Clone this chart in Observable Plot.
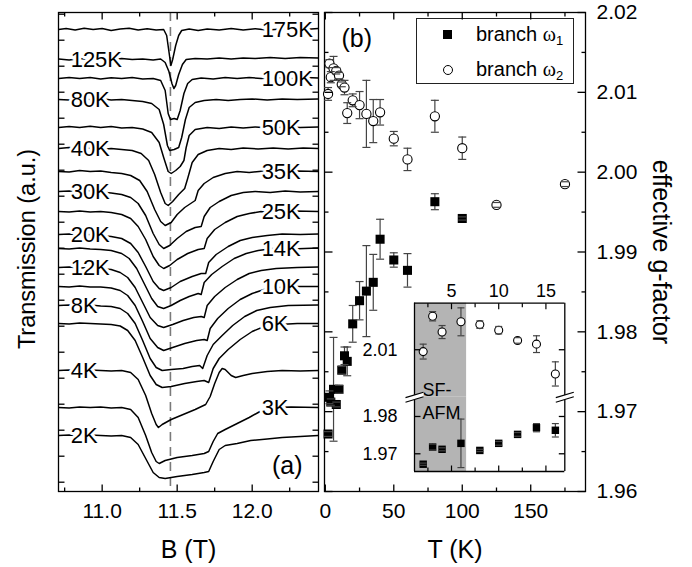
<!DOCTYPE html>
<html><head><meta charset="utf-8">
<script src="https://cdn.jsdelivr.net/npm/d3@7"></script>
<script src="https://cdn.jsdelivr.net/npm/@observablehq/plot@0.6"></script>
<style>
body{margin:0;background:#fff;}
#wrap{position:relative;width:692px;height:567px;overflow:hidden;background:#fff;font-family:"Liberation Sans",Arial,sans-serif;}
#wrap svg{position:absolute;left:0;top:0;}
#legend{position:absolute;left:416px;top:18px;width:158px;height:66px;border:1px solid #222;box-sizing:border-box;background:#fff;font-size:20px;}
#legend .sq{position:absolute;left:26px;top:11px;width:9px;height:9px;background:#000;}
#legend .ci{position:absolute;left:26px;top:46px;width:10px;height:10px;border:1.2px solid #000;border-radius:50%;box-sizing:border-box;}
#legend .t{position:absolute;left:59px;height:24px;line-height:24px;white-space:nowrap;}
#legend .w{font-family:"Liberation Serif","Times New Roman",serif;}
#legend sub{font-size:13px;vertical-align:-4px;}
</style></head><body>
<div id="wrap">
<div id="legend"><div class="sq"></div><div class="t" style="top:3px">branch <span class="w">ω</span><sub>1</sub></div>
<div class="ci"></div><div class="t" style="top:38px">branch <span class="w">ω</span><sub>2</sub></div></div>
</div>
<script>
// ---------- Panel (a): transmission spectra ----------
const temps = ["175K","125K","100K","80K","50K","40K","35K","30K","25K","20K","14K","12K","10K","8K","6K","4K","3K","2K"];
const offsets = [46.2,43.2,41.3,39.2,36.4,34.3,32.0,30.0,28.0,25.7,24.3,22.4,20.5,18.6,16.8,12.1,8.4,5.6];
const labelSide = ["right","left","right","left","right","left","right","left","right","left","right","left","right","left","right","left","right","left"];
// each trace: [B (T), change of transmission (a.u.) relative to its offset]
const spectra = [
 [[10.71,0],[10.76,0.1],[10.82,-0.05],[10.88,0.12],[10.94,0],[11.0,0.1],[11.06,-0.1],[11.12,0.05],[11.18,0.12],[11.24,-0.05],[11.3,0.08],[11.36,-0.05],[11.41,0],[11.43,-0.6],[11.445,-2.2],[11.458,-3.6],[11.47,-3.0],[11.49,-1.6],[11.51,-0.6],[11.53,-0.1],[11.58,0.05],[11.64,-0.1],[11.7,0.05],[11.78,-0.05],[11.86,0.1],[11.94,-0.05],[12.02,0.08],[12.1,-0.05],[12.2,0.05],[12.3,-0.05],[12.44,0.1]],
 [[10.71,0.05],[10.78,-0.05],[10.85,0.1],[10.92,0],[10.99,0.1],[11.06,-0.05],[11.13,0.1],[11.2,0],[11.27,0.05],[11.34,-0.05],[11.39,0.05],[11.42,-0.3],[11.445,-1.2],[11.465,-2.4],[11.478,-2.9],[11.49,-2.6],[11.51,-1.5],[11.535,-0.5],[11.56,0],[11.62,0.1],[11.7,0.05],[11.78,0.15],[11.86,0.05],[11.94,0.15],[12.02,0.1],[12.12,0.2],[12.22,0.1],[12.32,0.2],[12.44,0.15]],
 [[10.71,0],[10.78,0.1],[10.85,0],[10.92,0.1],[10.99,-0.05],[11.06,0.08],[11.13,0],[11.2,0.1],[11.27,-0.05],[11.34,0],[11.39,-0.2],[11.42,-1.2],[11.44,-3.5],[11.455,-4.1],[11.48,-4.0],[11.5,-4.1],[11.52,-3.2],[11.545,-1.5],[11.57,-0.5],[11.6,-0.1],[11.66,0.05],[11.74,-0.05],[11.82,0.1],[11.9,0],[11.98,0.1],[12.06,0],[12.16,0.1],[12.26,0],[12.36,0.1],[12.44,0.05]],
 [[10.71,0],[10.78,-0.05],[10.85,0.08],[10.92,0],[10.99,0.1],[11.06,-0.05],[11.13,0],[11.2,-0.1],[11.27,-0.2],[11.33,-0.4],[11.38,-1.0],[11.41,-2.5],[11.435,-4.6],[11.45,-5.1],[11.48,-5.0],[11.51,-4.8],[11.53,-3.8],[11.555,-2.0],[11.58,-0.8],[11.62,-0.3],[11.68,-0.1],[11.76,0],[11.84,-0.1],[11.92,0],[12.0,0.05],[12.1,-0.05],[12.2,0.05],[12.3,0],[12.44,0.05]],
 [[10.71,0],[10.78,0.1],[10.85,0],[10.92,0.12],[10.99,0],[11.06,0.1],[11.13,-0.05],[11.2,0],[11.27,-0.15],[11.33,-0.5],[11.38,-1.5],[11.41,-3.0],[11.44,-4.4],[11.46,-4.6],[11.49,-4.3],[11.52,-3.9],[11.545,-3.3],[11.56,-2.0],[11.58,-0.8],[11.62,-0.2],[11.7,0],[11.78,-0.1],[11.86,0.05],[11.94,-0.05],[12.02,0.05],[12.12,-0.05],[12.22,0.05],[12.32,0],[12.44,0.05]],
 [[10.71,0],[10.78,0.1],[10.85,-0.05],[10.92,0.05],[10.99,-0.1],[11.06,0],[11.13,-0.1],[11.2,-0.2],[11.26,-0.5],[11.31,-1.2],[11.35,-2.6],[11.39,-4.4],[11.42,-5.5],[11.44,-5.7],[11.47,-5.3],[11.51,-4.6],[11.55,-4.0],[11.57,-3.0],[11.6,-1.4],[11.64,-0.6],[11.7,-0.2],[11.78,0],[11.86,-0.1],[11.94,0.05],[12.04,-0.05],[12.14,0.05],[12.24,-0.05],[12.34,0.05],[12.44,0]],
 [[10.71,0],[10.78,-0.05],[10.85,0.1],[10.92,0],[10.99,0.05],[11.06,-0.1],[11.13,-0.2],[11.19,-0.4],[11.25,-0.9],[11.3,-2.0],[11.35,-3.8],[11.39,-5.0],[11.42,-5.4],[11.46,-5.1],[11.5,-4.3],[11.55,-3.6],[11.6,-3.1],[11.62,-2.9],[11.64,-1.9],[11.68,-1.2],[11.74,-0.6],[11.82,-0.2],[11.9,0],[11.98,-0.1],[12.08,0.05],[12.18,-0.05],[12.3,0.05],[12.44,0]],
 [[10.71,0],[10.78,0.05],[10.85,-0.05],[10.92,0.1],[10.99,-0.05],[11.06,-0.15],[11.13,-0.3],[11.19,-0.6],[11.24,-1.2],[11.29,-2.4],[11.34,-4.2],[11.38,-5.3],[11.41,-5.7],[11.45,-5.4],[11.5,-4.7],[11.56,-4.0],[11.62,-3.6],[11.66,-3.5],[11.68,-2.5],[11.72,-1.6],[11.78,-1.0],[11.86,-0.4],[11.94,-0.1],[12.02,0],[12.12,-0.1],[12.22,0.05],[12.32,-0.05],[12.44,0]],
 [[10.71,0],[10.78,-0.05],[10.85,0.05],[10.92,-0.05],[10.99,0],[11.06,-0.1],[11.13,-0.3],[11.19,-0.7],[11.24,-1.5],[11.29,-2.8],[11.34,-4.5],[11.38,-5.4],[11.41,-5.7],[11.45,-5.4],[11.5,-4.8],[11.57,-4.2],[11.64,-3.8],[11.68,-3.7],[11.7,-2.7],[11.75,-1.8],[11.82,-1.1],[11.9,-0.5],[11.98,-0.2],[12.06,0],[12.16,-0.05],[12.28,0.05],[12.44,0]],
 [[10.71,0],[10.78,0.05],[10.85,-0.05],[10.92,0],[10.99,-0.1],[11.06,-0.2],[11.13,-0.4],[11.19,-0.9],[11.24,-1.8],[11.29,-3.2],[11.34,-4.7],[11.38,-5.4],[11.41,-5.6],[11.46,-5.3],[11.52,-4.7],[11.6,-4.2],[11.66,-3.9],[11.69,-3.9],[11.71,-2.8],[11.76,-2.0],[11.84,-1.2],[11.92,-0.6],[12.0,-0.3],[12.1,-0.1],[12.2,0.05],[12.32,0],[12.44,0.05]],
 [[10.71,0],[10.78,-0.05],[10.85,0.05],[10.92,-0.05],[10.99,-0.1],[11.06,-0.2],[11.13,-0.5],[11.18,-1.0],[11.23,-2.0],[11.28,-3.5],[11.33,-5.0],[11.37,-5.8],[11.41,-6.0],[11.46,-5.7],[11.52,-5.2],[11.58,-4.8],[11.64,-4.5],[11.66,-4.6],[11.68,-3.4],[11.73,-2.6],[11.8,-1.8],[11.88,-1.0],[11.96,-0.5],[12.04,-0.2],[12.14,0],[12.26,-0.05],[12.44,0.05]],
 [[10.71,0],[10.78,0.05],[10.85,-0.05],[10.92,0],[10.99,-0.1],[11.06,-0.2],[11.12,-0.5],[11.17,-1.0],[11.22,-2.0],[11.27,-3.5],[11.32,-5.0],[11.37,-5.8],[11.41,-6.0],[11.47,-5.7],[11.54,-5.3],[11.61,-5.0],[11.66,-4.9],[11.68,-5.0],[11.7,-3.8],[11.75,-2.9],[11.82,-2.0],[11.9,-1.2],[11.98,-0.6],[12.06,-0.3],[12.16,-0.1],[12.3,0],[12.44,0.05]],
 [[10.71,0],[10.78,-0.05],[10.85,0.05],[10.92,-0.05],[10.99,-0.05],[11.06,-0.15],[11.12,-0.4],[11.17,-0.9],[11.22,-1.9],[11.27,-3.5],[11.32,-5.2],[11.37,-6.1],[11.41,-6.4],[11.47,-6.1],[11.55,-5.7],[11.63,-5.4],[11.68,-5.3],[11.7,-5.4],[11.72,-4.2],[11.77,-3.2],[11.84,-2.2],[11.92,-1.3],[12.0,-0.7],[12.08,-0.3],[12.18,-0.1],[12.3,0],[12.44,0]],
 [[10.71,0],[10.78,0.05],[10.85,-0.05],[10.92,0.05],[10.99,-0.05],[11.06,-0.1],[11.12,-0.3],[11.17,-0.8],[11.22,-1.8],[11.27,-3.5],[11.32,-5.3],[11.36,-6.2],[11.4,-6.5],[11.46,-6.4],[11.54,-6.3],[11.6,-6.1],[11.65,-6.0],[11.67,-6.3],[11.7,-5.0],[11.74,-3.9],[11.8,-3.0],[11.87,-2.0],[11.95,-1.1],[12.03,-0.5],[12.12,-0.2],[12.24,0],[12.44,0.05]],
 [[10.71,0],[10.78,-0.05],[10.85,0.05],[10.92,0],[10.99,-0.05],[11.06,-0.1],[11.12,-0.25],[11.17,-0.7],[11.22,-1.7],[11.27,-3.4],[11.32,-5.2],[11.36,-6.1],[11.4,-6.4],[11.46,-6.3],[11.55,-6.0],[11.63,-5.8],[11.68,-5.7],[11.71,-5.9],[11.74,-4.5],[11.78,-3.5],[11.84,-2.6],[11.92,-1.6],[12.0,-0.8],[12.08,-0.3],[12.18,-0.1],[12.3,0],[12.44,0]],
 [[10.71,0],[10.78,0.05],[10.85,-0.05],[10.92,0.05],[10.99,0],[11.06,-0.05],[11.13,0],[11.19,-0.2],[11.24,-0.9],[11.29,-2.5],[11.33,-4.3],[11.36,-5.4],[11.375,-5.7],[11.4,-5.4],[11.46,-4.9],[11.54,-4.4],[11.62,-3.9],[11.69,-3.4],[11.72,-2.6],[11.75,-1.3],[11.78,-0.2],[11.8,0.2],[11.82,0.1],[11.86,-0.5],[11.89,-0.7],[11.94,-0.5],[12.0,-0.3],[12.1,-0.1],[12.2,0],[12.32,-0.05],[12.44,0]],
 [[10.71,0],[10.78,-0.05],[10.85,0.05],[10.92,0],[10.99,0.05],[11.06,-0.05],[11.13,0],[11.19,-0.2],[11.24,-1.0],[11.29,-2.8],[11.33,-4.5],[11.36,-5.4],[11.38,-5.6],[11.42,-5.3],[11.5,-5.0],[11.6,-4.8],[11.68,-4.6],[11.71,-4.4],[11.74,-3.4],[11.77,-2.6],[11.82,-2.2],[11.9,-1.6],[11.98,-1.0],[12.04,-0.5],[12.08,-0.2],[12.14,0],[12.26,0.05],[12.44,0]],
 [[10.71,0],[10.78,0.05],[10.85,-0.05],[10.92,0.05],[10.99,0],[11.06,-0.05],[11.13,0],[11.19,-0.2],[11.24,-0.9],[11.29,-2.3],[11.34,-3.7],[11.38,-4.2],[11.42,-4.3],[11.5,-4.1],[11.6,-3.9],[11.68,-3.7],[11.71,-3.6],[11.74,-2.6],[11.78,-1.4],[11.82,-1.0],[11.9,-0.8],[11.99,-0.5],[12.1,-0.35],[12.2,-0.2],[12.32,-0.1],[12.44,0]]
];
const bDomain = [10.709, 12.442];
const aDomain = [0, 47.9];
const dashB = 11.455;
const labelBLeft = 10.79, labelBRight = 12.063;
const bTickLabels = [11.0, 11.5, 12.0];
const bTicksMinor = [10.75, 11.25, 11.75, 12.25];
const aTicksY = [0.93,3.53,6.13,8.73,11.33,13.93,16.53,19.13,21.73,24.33,26.93,29.53,32.13,34.73,37.33,39.93,42.53,45.13,47.73];

// ---------- Panel (b): effective g-factor ----------
const w1T = [2,3,4,6,8,10,12,14,16,20,25,30,35,40,50,60,80,100];
const w1G = [1.9672,1.9718,1.9712,1.9728,1.9709,1.9728,1.9752,1.9770,1.9763,1.9810,1.9839,1.9851,1.9862,1.9916,1.9890,1.9877,1.9963,1.9942];
const w1E = [0.0003,0.0008,0.0004,0.0065,0.0003,0.0005,0.0005,0.0011,0.0018,0.0023,0.0024,0.0057,0.0035,0.0025,0.0009,0.0021,0.0010,0.0002];
const w2T = [2,3,4,6,8,10,12,14,16,20,25,30,35,40,50,60,80,100,125,175];
const w2G = [2.0098,2.0136,2.0119,2.0130,2.0127,2.0121,2.0110,2.0106,2.0074,2.0090,2.0084,2.0073,2.0064,2.0075,2.0042,2.0016,2.0070,2.0030,1.9959,1.9985];
const w2E = [0.0008,0.0005,0.0007,0.0015,0.0004,0.0004,0.0003,0.0009,0.0013,0.0008,0.0017,0.0042,0.0027,0.0016,0.0009,0.0014,0.0020,0.0014,0.0003,0.0003];
const tDomain = [-0.6, 190];
const gDomain = [1.96, 2.02];
const tTickLabels = [0, 50, 100, 150];
const tTicksMinor = [25, 75, 125, 175];
const gTickLabels = [1.96, 1.97, 1.98, 1.99, 2.00, 2.01, 2.02];
const gTicksMinor = [1.965, 1.975, 1.985, 1.995, 2.005, 2.015];

// ---------- Inset ----------
const insetT = [1.08, 17.0];
const insetUpper = [2.0049, 2.0150];
const insetLower = [1.96525, 1.98517];
const sfAfmEdge = 6.6;
const insetTickLabels = [5, 10, 15];
const insetTicksMinor = [2.5, 7.5, 12.5];
const insetUpperTicks = [2.01];
const insetLowerTicks = [1.97, 1.98];
const insetMaxT = 16;

// ---------- helpers ----------
const W = 692, H = 567;
const FONT = "Liberation Sans, Arial, sans-serif";
const tickSym = (dx, dy) => ({draw(ctx, size) { const L = Math.sqrt(size / Math.PI); ctx.moveTo(0, 0); ctx.lineTo(dx * L, dy * L); }});
const capSym = {draw(ctx, size) { const L = Math.sqrt(size / Math.PI); ctx.moveTo(-L, 0); ctx.lineTo(L, 0); }};
const breakLines = {draw(ctx, size) { const L = Math.sqrt(size / Math.PI); for (const o of [-2.3, 2.3]) { ctx.moveTo(-L, o + 0.3 * L); ctx.lineTo(L, o - 0.3 * L); } }};
const breakGap = {draw(ctx, size) { const L = Math.sqrt(size / Math.PI); ctx.moveTo(-L, -2.3 + 0.3 * L); ctx.lineTo(L, -2.3 - 0.3 * L); ctx.lineTo(L, 2.3 - 0.3 * L); ctx.lineTo(-L, 2.3 + 0.3 * L); ctx.closePath(); }};
const style = (fs) => ({background: "transparent", fontFamily: FONT, fontSize: fs + "px", color: "black", overflow: "visible"});
function xTicks(vals, len, both = true) {
  const m = [Plot.dot(vals, {x: d => d, frameAnchor: "bottom", symbol: tickSym(0, -1), r: len, stroke: "black", strokeWidth: 1.3, fill: "none"})];
  if (both) m.push(Plot.dot(vals, {x: d => d, frameAnchor: "top", symbol: tickSym(0, 1), r: len, stroke: "black", strokeWidth: 1.3, fill: "none"}));
  return m;
}
function yTicks(vals, len) {
  return [Plot.dot(vals, {y: d => d, frameAnchor: "left", symbol: tickSym(1, 0), r: len, stroke: "black", strokeWidth: 1.3, fill: "none"}),
          Plot.dot(vals, {y: d => d, frameAnchor: "right", symbol: tickSym(-1, 0), r: len, stroke: "black", strokeWidth: 1.3, fill: "none"})];
}
function errMarks(rows, r, capR, sym, filled) {
  return [
    Plot.ruleX(rows, {x: "T", y1: d => d.g - d.e, y2: d => d.g + d.e, stroke: "#444", strokeWidth: 1.2}),
    filled ? Plot.dot(rows, {x: "T", y: "g", symbol: "square", r, fill: "black", stroke: "none"})
           : Plot.dot(rows, {x: "T", y: "g", symbol: "circle", r, fill: "white", stroke: "black", strokeWidth: 1.1}),
    Plot.dot(rows, {x: "T", y: d => d.g - d.e, symbol: capSym, r: capR, stroke: "#444", strokeWidth: 1.2, fill: "none"}),
    Plot.dot(rows, {x: "T", y: d => d.g + d.e, symbol: capSym, r: capR, stroke: "#444", strokeWidth: 1.2, fill: "none"})
  ];
}

const curveRows = spectra.flatMap((pts, i) => pts.map(([B, d]) => ({temp: temps[i], B, v: offsets[i] + d})));
const labelRows = temps.map((t, i) => ({t, v: offsets[i], side: labelSide[i]}));
const w1 = w1T.map((T, i) => ({T, g: w1G[i], e: w1E[i]}));
const w2 = w2T.map((T, i) => ({T, g: w2G[i], e: w2E[i]}));

const wrap = document.getElementById("wrap");

// Panel (a)
const plotA = Plot.plot({
  width: W, height: H, marginLeft: 58, marginRight: W - 318, marginTop: 12, marginBottom: H - 491,
  style: style(21),
  x: {domain: bDomain, label: null},
  y: {domain: aDomain, label: null, axis: null},
  marks: [
    Plot.ruleX([dashB], {stroke: "#7a7a7a", strokeWidth: 1.6, strokeDasharray: "9,6"}),
    Plot.line(curveRows, {x: "B", y: "v", z: "temp", stroke: "black", strokeWidth: 1.5}),
    Plot.text(labelRows, {x: d => d.side === "left" ? labelBLeft : labelBRight, y: "v", text: "t", textAnchor: "start", lineAnchor: "middle", fontSize: 22, fill: "black", stroke: "white", strokeWidth: 6}),
    Plot.frame({stroke: "black", strokeWidth: 1.3}),
    ...xTicks(bTickLabels, 7), ...xTicks(bTicksMinor, 4), ...yTicks(aTicksY, 6),
    Plot.axisX(bTickLabels, {anchor: "bottom", tickSize: 0, tickPadding: 12, tickFormat: d => d.toFixed(1), fontSize: 21, label: null}),
    Plot.text(["B (T)"], {frameAnchor: "bottom", dy: 58, lineAnchor: "middle", fontSize: 25}),
    Plot.text(["Transmission (a.u.)"], {frameAnchor: "left", dx: -31, dy: -3, rotate: -90, textAnchor: "middle", lineAnchor: "middle", fontSize: 23.5}),
    Plot.text(["(a)"], {frameAnchor: "bottom-right", dx: -16, dy: -26, textAnchor: "end", lineAnchor: "middle", fontSize: 25})
  ]
});
wrap.appendChild(plotA);

// Panel (b)
const plotB = Plot.plot({
  width: W, height: H, marginLeft: 324, marginRight: W - 585, marginTop: 12, marginBottom: H - 491,
  style: style(21),
  x: {domain: tDomain, label: null},
  y: {domain: gDomain, label: null},
  marks: [
    Plot.frame({stroke: "black", strokeWidth: 1.3}),
    ...errMarks(w2, 4.6, 4, "circle", false),
    ...errMarks(w1, 5.1, 4, "square", true),
    ...xTicks(tTickLabels, 7), ...xTicks(tTicksMinor, 4), ...yTicks(gTickLabels, 8), ...yTicks(gTicksMinor, 4),
    Plot.axisX(tTickLabels, {anchor: "bottom", tickSize: 0, tickPadding: 12, fontSize: 21, label: null}),
    Plot.axisY(gTickLabels, {anchor: "right", tickSize: 0, tickPadding: 11, tickFormat: d => d.toFixed(2), fontSize: 21, label: null}),
    Plot.text(["T (K)"], {frameAnchor: "bottom", dy: 58, lineAnchor: "middle", fontSize: 25}),
    Plot.text(["effective g-factor"], {frameAnchor: "right", dx: 75, dy: 0, rotate: 90, textAnchor: "middle", lineAnchor: "middle", fontSize: 25}),
    Plot.text(["(b)"], {frameAnchor: "top-left", dx: 17, dy: 26, textAnchor: "start", lineAnchor: "middle", fontSize: 25})
  ]
});
wrap.appendChild(plotB);

// Inset, upper part (branch ω2)
const w2In = w2.filter(d => d.T <= insetMaxT);
const w1In = w1.filter(d => d.T <= insetMaxT);
const insetUp = Plot.plot({
  width: W, height: H, marginLeft: 414, marginRight: W - 564.3, marginTop: 302.7, marginBottom: H - 396.7,
  style: style(18),
  x: {domain: insetT, label: null},
  y: {domain: insetUpper, label: null},
  marks: [
    Plot.frame({fill: "white", stroke: "none"}),
    Plot.rect([0], {x1: insetT[0], x2: sfAfmEdge, y1: insetUpper[0], y2: insetUpper[1], fill: "#b4b4b4"}),
    ...errMarks(w2In, 4, 3.5, "circle", false),
    Plot.ruleX(insetT, {stroke: "black", strokeWidth: 1.3}),
    Plot.ruleY([insetUpper[1]], {stroke: "black", strokeWidth: 1.3}),
    Plot.dot(insetTickLabels, {x: d => d, frameAnchor: "top", symbol: tickSym(0, 1), r: 6, stroke: "black", strokeWidth: 1.2, fill: "none"}),
    Plot.dot(insetTicksMinor, {x: d => d, frameAnchor: "top", symbol: tickSym(0, 1), r: 4, stroke: "black", strokeWidth: 1.2, fill: "none"}),
    ...yTicks(insetUpperTicks, 6),
    Plot.axisX(insetTickLabels, {anchor: "top", tickSize: 0, tickPadding: 6, fontSize: 18, label: null}),
    Plot.axisY(insetUpperTicks, {anchor: "left", tickSize: 0, tickPadding: 17, tickFormat: d => d.toFixed(2), fontSize: 18, label: null})
  ]
});
wrap.appendChild(insetUp);

// Inset, lower part (branch ω1)
const insetLo = Plot.plot({
  width: W, height: H, marginLeft: 414, marginRight: W - 564.3, marginTop: 396.7, marginBottom: H - 471,
  style: style(18),
  x: {domain: insetT, label: null, axis: null},
  y: {domain: insetLower, label: null},
  marks: [
    Plot.frame({fill: "white", stroke: "none"}),
    Plot.rect([0], {x1: insetT[0], x2: sfAfmEdge, y1: insetLower[0], y2: insetLower[1], fill: "#b4b4b4"}),
    ...errMarks(w1In, 4.2, 3.5, "square", true),
    Plot.ruleX(insetT, {stroke: "black", strokeWidth: 1.3}),
    Plot.ruleY([insetLower[0]], {stroke: "black", strokeWidth: 1.3}),
    Plot.dot(insetTickLabels, {x: d => d, frameAnchor: "bottom", symbol: tickSym(0, -1), r: 6, stroke: "black", strokeWidth: 1.2, fill: "none"}),
    Plot.dot(insetTicksMinor, {x: d => d, frameAnchor: "bottom", symbol: tickSym(0, -1), r: 4, stroke: "black", strokeWidth: 1.2, fill: "none"}),
    ...yTicks(insetLowerTicks, 6),
    Plot.axisY(insetLowerTicks, {anchor: "left", tickSize: 0, tickPadding: 17, tickFormat: d => d.toFixed(2), fontSize: 18, label: null}),
    Plot.text(["SF-"], {frameAnchor: "top-left", dx: 8, dy: -7, textAnchor: "start", lineAnchor: "middle", fontSize: 18}),
    Plot.text(["AFM"], {frameAnchor: "top-left", dx: 8, dy: 16, textAnchor: "start", lineAnchor: "middle", fontSize: 18}),
    Plot.dot(insetT, {x: d => d, y: () => insetLower[1], symbol: breakGap, r: 9, fill: "white", stroke: "none"}),
    Plot.dot(insetT, {x: d => d, y: () => insetLower[1], symbol: breakLines, r: 9, stroke: "black", strokeWidth: 1.2, fill: "none"})
  ]
});
wrap.appendChild(insetLo);
</script>
</body></html>
